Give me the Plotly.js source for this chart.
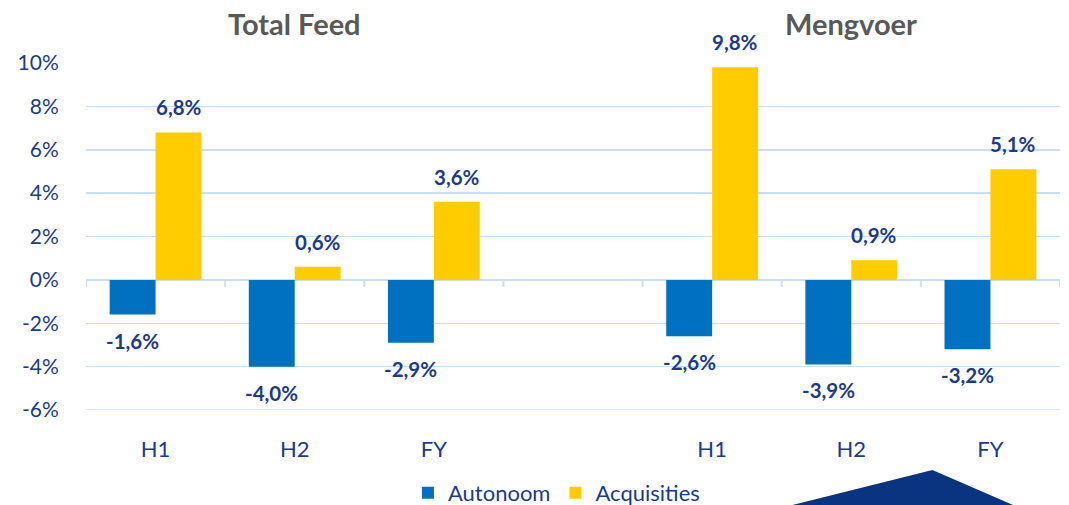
<!DOCTYPE html>
<html>
<head>
<meta charset="utf-8">
<script src="https://cdn.plot.ly/plotly-3.0.1.min.js"></script>
<style>html,body{margin:0;padding:0;background:#fff;}#chart{width:1069px;height:505px;}</style>
</head>
<body>
<div id="chart"></div>
<script>
// Data
var positions = [0, 1, 2, 3, 4, 5, 6];
var categoryLabels = ["H1", "H2", "FY", "", "H1", "H2", "FY"];
var autonoom = [-1.6, -4.0, -2.9, null, -2.6, -3.9, -3.2];
var acquisities = [6.8, 0.6, 3.6, null, 9.8, 0.9, 5.1];
var seriesNames = ["Autonoom", "Acquisities"];
var groupTitles = ["Total Feed", "Mengvoer"];
var yTickVals = [-6, -4, -2, 0, 2, 4, 6, 8, 10];
var yTickText = ["-6%", "-4%", "-2%", "0%", "2%", "4%", "6%", "8%", "10%"];
var boundaries = [-0.5, 0.5, 1.5, 2.5, 3.5, 4.5, 5.5, 6.5];

var blue = "#0070C0", yellow = "#FFCC00", navy = "#1B3A8A", grid = "#C9DFF7";
var font = "Lato, 'Noto Sans', sans-serif";

function fmt(v) { return v.toFixed(1).replace(".", ",") + "%"; }

var traces = [
  { type: "bar", name: seriesNames[0], x: positions, y: autonoom, marker: { color: blue }, hoverinfo: "skip" },
  { type: "bar", name: seriesNames[1], x: positions, y: acquisities, marker: { color: yellow }, hoverinfo: "skip" }
];

var bargap = 0.34;
var half = (1 - bargap) / 4;
var annotations = [];
[autonoom, acquisities].forEach(function (arr, s) {
  arr.forEach(function (v, i) {
    if (v === null) return;
    annotations.push({
      x: positions[i] + (s === 0 ? -half : half), y: v, xref: "x", yref: "y",
      text: "<b>" + fmt(v) + "</b>", showarrow: false,
      yanchor: v >= 0 ? "bottom" : "top", yshift: v >= 0 ? 11 : -12,
      font: { family: font, size: 20.5, color: navy }
    });
  });
});
annotations.push({ x: 1, y: 1, xref: "x", yref: "paper", yshift: 40, text: "<b>" + groupTitles[0] + "</b>", showarrow: false, yanchor: "middle", font: { family: font, size: 29, color: "#595959" } });
annotations.push({ x: 5, y: 1, xref: "x", yref: "paper", yshift: 40, text: "<b>" + groupTitles[1] + "</b>", showarrow: false, yanchor: "middle", font: { family: font, size: 29, color: "#595959" } });

var shapes = [];
boundaries.forEach(function (b) {
  shapes.push({ type: "line", xref: "x", yref: "y", x0: b, x1: b, ysizemode: "pixel", yanchor: 0, y0: 0, y1: -7,
                line: { color: grid, width: 2 } });
});
shapes.push({ type: "line", xref: "paper", yref: "y", x0: 0, x1: 1, y0: -6, y1: -6, line: { color: grid, width: 1.5 }, layer: "below" });
shapes.push({
  type: "path", xref: "paper", yref: "paper",
  path: "M 0.725 -0.274 L 0.869 -0.173 L 0.952 -0.274 Z",
  fillcolor: "#0A347F", line: { width: 0 }
});

var layout = {
  width: 1069, height: 505,
  margin: { l: 86, r: 9, t: 63, b: 95, autoexpand: false },
  paper_bgcolor: "#fff", plot_bgcolor: "#fff",
  barmode: "group", bargap: bargap, bargroupgap: 0,
  showlegend: true,
  legend: { orientation: "h", x: 0.483, xanchor: "center", y: -0.239, yanchor: "middle",
            font: { family: font, size: 22, color: navy }, itemwidth: 30, tracegroupgap: 0 },
  xaxis: {
    range: [-0.5, 6.5], tickmode: "array", tickvals: positions, ticktext: categoryLabels,
    showgrid: false, zeroline: false, showline: false,
    ticks: "outside", ticklen: 20, tickcolor: "rgba(0,0,0,0)",
    tickfont: { family: font, size: 22, color: navy }, fixedrange: true
  },
  yaxis: {
    range: [-6, 10], tickmode: "array", tickvals: yTickVals, ticktext: yTickText,
    showgrid: true, gridcolor: grid, gridwidth: 1.5, zeroline: true, zerolinecolor: grid, zerolinewidth: 2.5,
    showline: false,
    ticks: "outside", ticklen: 22, tickcolor: "rgba(0,0,0,0)",
    tickfont: { family: font, size: 21, color: navy }, fixedrange: true
  },
  annotations: annotations,
  shapes: shapes
};

Plotly.newPlot("chart", traces, layout, { displayModeBar: false, staticPlot: true });
</script>
</body>
</html>
